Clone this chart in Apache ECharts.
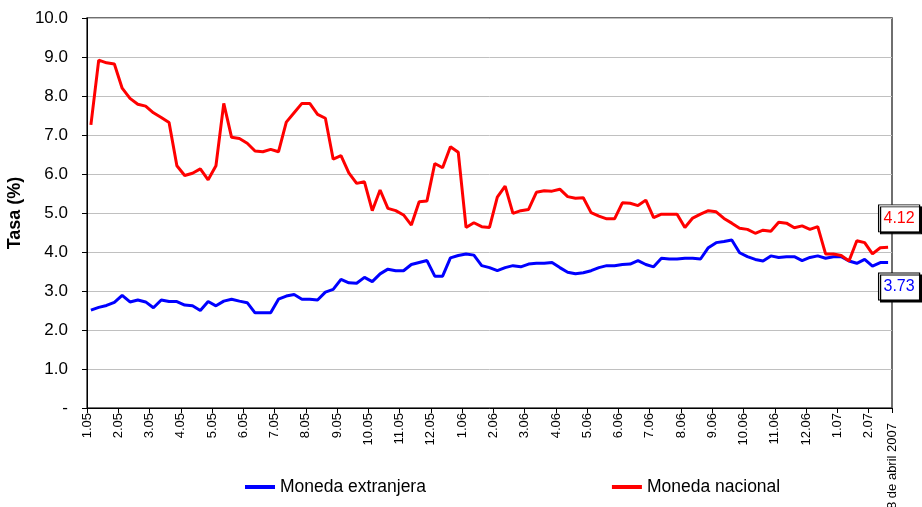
<!DOCTYPE html>
<html>
<head>
<meta charset="utf-8">
<script src="https://cdn.jsdelivr.net/npm/echarts@6/dist/echarts.min.js"></script>
<style>
  html, body { margin: 0; padding: 0; background: #fff; }
  #chart { width: 922px; height: 507px; }
</style>
</head>
<body>
<div id="chart"></div>
<script>
// tick labels, one every 4 weekly points, plus the last date
const monthLabels = ['1.05','2.05','3.05','4.05','5.05','6.05','7.05','8.05','9.05','10.05','11.05','12.05',
                     '1.06','2.06','3.06','4.06','5.06','6.06','7.06','8.06','9.06','10.06','11.06','12.06',
                     '1.07','2.07'];
const lastLabel = '8 de abril 2007';
const yLabels = ['-','1.0','2.0','3.0','4.0','5.0','6.0','7.0','8.0','9.0','10.0'];

// weekly rates (%)
const extranjera = [
  2.51, 2.58, 2.63, 2.71, 2.89, 2.72, 2.77, 2.72, 2.57, 2.77, 2.73, 2.73, 2.64, 2.62, 2.50, 2.73,
  2.62, 2.74, 2.79, 2.74, 2.70, 2.44, 2.44, 2.44, 2.79, 2.87, 2.91,
  2.79, 2.79, 2.77, 2.97, 3.04, 3.30, 3.21, 3.20, 3.35, 3.24, 3.44, 3.56, 3.52, 3.52, 3.68, 3.73,
  3.78, 3.38, 3.38, 3.85, 3.91, 3.95, 3.92, 3.65, 3.60, 3.52,
  3.60, 3.65, 3.62, 3.69, 3.71, 3.71, 3.73, 3.60, 3.48, 3.44, 3.47, 3.52, 3.60, 3.65, 3.65, 3.68,
  3.69, 3.78, 3.68, 3.62, 3.84, 3.82, 3.82, 3.84, 3.84,
  3.82, 4.11, 4.24, 4.27, 4.31, 3.98, 3.88, 3.81, 3.77, 3.90, 3.86, 3.88, 3.88, 3.78, 3.86, 3.90,
  3.84, 3.88, 3.88, 3.77, 3.71, 3.81, 3.64, 3.73, 3.73
];
const nacional = [
  7.26, 8.92, 8.85, 8.82, 8.20, 7.94, 7.79, 7.74, 7.57, 7.45, 7.32, 6.21, 5.96, 6.02, 6.13, 5.85,
  6.21, 7.81, 6.94, 6.91, 6.79, 6.59, 6.57, 6.63, 6.57, 7.33, 7.57,
  7.81, 7.81, 7.53, 7.43, 6.38, 6.47, 6.03, 5.76, 5.80, 5.06, 5.59, 5.12, 5.06, 4.95, 4.69, 5.29,
  5.31, 6.27, 6.16, 6.70, 6.56, 4.63, 4.75, 4.65, 4.63, 5.41,
  5.69, 4.99, 5.06, 5.09, 5.53, 5.57, 5.56, 5.61, 5.42, 5.38, 5.39, 5.01, 4.92, 4.85, 4.85, 5.26,
  5.25, 5.19, 5.33, 4.88, 4.97, 4.97, 4.97, 4.63, 4.87,
  4.97, 5.06, 5.03, 4.86, 4.74, 4.61, 4.58, 4.48, 4.56, 4.53, 4.76, 4.74, 4.62, 4.67, 4.58, 4.65,
  3.95, 3.95, 3.91, 3.77, 4.29, 4.24, 3.95, 4.11, 4.12
];

const FONT = 'Liberation Sans, Arial, sans-serif';
const n = nacional.length;

const chart = echarts.init(document.getElementById('chart'), null, { renderer: 'canvas' });

// weekly points sit in the middle of each slot, ticks on slot edges
const toPairs = arr => arr.map((v, i) => [i + 0.5, v]);

const endBox = (arr, color, dy) => ({
  symbol: 'rect',
  symbolSize: [41, 27],
  symbolOffset: [11, dy],
  itemStyle: {
    color: '#fff', borderColor: '#000', borderWidth: 1,
    shadowColor: '#000', shadowOffsetX: 2, shadowOffsetY: 2, shadowBlur: 0
  },
  label: {
    show: true, position: 'inside', color: color,
    fontFamily: FONT, fontSize: 16,
    formatter: p => p.value.toFixed(2)
  },
  data: [{ coord: [n - 0.5, arr[n - 1]], value: arr[n - 1] }],
  animation: false
});

chart.setOption({
  backgroundColor: '#fff',
  animation: false,
  grid: {
    left: 87, right: 30, top: 18, bottom: 99,
    outerBoundsMode: 'none',
    show: true, borderColor: '#404040', borderWidth: 1.5
  },
  legend: {
    left: 240, top: 473,
    icon: 'rect', itemWidth: 30, itemHeight: 4, itemGap: 186,
    textStyle: { color: '#000', fontFamily: FONT, fontSize: 17.5 },
    data: ['Moneda extranjera', 'Moneda nacional']
  },
  xAxis: {
    type: 'value',
    min: 0, max: n, interval: 4,
    axisLine: { lineStyle: { color: '#000', width: 1 } },
    axisTick: { show: true, length: 5, lineStyle: { color: '#000' } },
    splitLine: { show: false },
    axisLabel: {
      rotate: 90, margin: 5, color: '#000',
      fontFamily: FONT, fontSize: 13,
      showMinLabel: true, showMaxLabel: true,
      formatter: v => (v === n ? '{last|' + lastLabel + '}' : (monthLabels[v / 4] || '')),
      rich: { last: { fontFamily: FONT, fontSize: 13, color: '#000', padding: [0, 10, 0, 0] } }
    }
  },
  yAxis: {
    type: 'value',
    min: 0, max: 10, interval: 1,
    name: 'Tasa (%)',
    nameLocation: 'middle', nameGap: 58,
    nameTextStyle: { color: '#000', fontFamily: FONT, fontSize: 18, fontWeight: 'bold' },
    axisLine: { show: true, lineStyle: { color: '#000', width: 1 } },
    axisTick: { show: true, length: 5, lineStyle: { color: '#000' } },
    splitLine: { lineStyle: { color: '#c0c0c0', width: 1 } },
    axisLabel: {
      margin: 19, color: '#000',
      fontFamily: FONT, fontSize: 17,
      formatter: v => yLabels[Math.round(v)]
    }
  },
  series: [
    {
      name: 'Moneda extranjera', type: 'line',
      data: toPairs(extranjera),
      showSymbol: false, symbol: 'none',
      color: '#0000ff',
      lineStyle: { width: 3, color: '#0000ff' },
      markPoint: endBox(extranjera, '#0000ff', 24)
    },
    {
      name: 'Moneda nacional', type: 'line',
      data: toPairs(nacional),
      showSymbol: false, symbol: 'none',
      color: '#ff0000',
      lineStyle: { width: 3, color: '#ff0000' },
      markPoint: endBox(nacional, '#ff0000', -29)
    }
  ]
});
</script>
</body>
</html>
